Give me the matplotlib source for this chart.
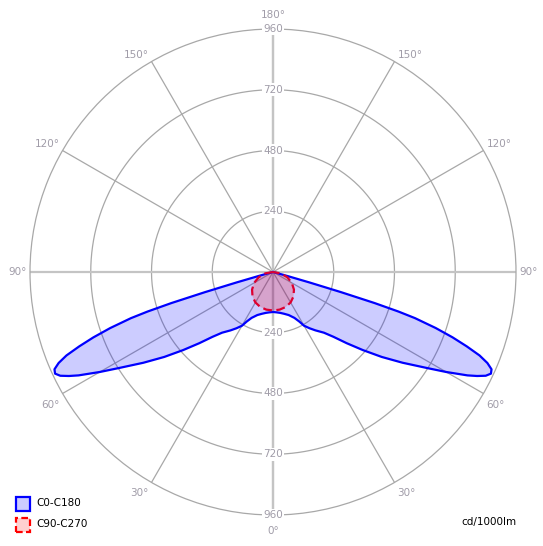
import matplotlib
matplotlib.use("Agg")
import matplotlib.pyplot as plt
import numpy as np
from matplotlib.patches import Rectangle

# photometric data, gamma angles in degrees from nadir, intensity in cd/1000lm
gamma_c0 = [0, 5, 10, 15, 20, 25, 28, 30, 33, 36, 40, 43, 46, 49, 52, 55, 58,
            60, 62, 63, 64, 65, 66, 67, 68, 69, 70, 71, 72, 72.5, 73, 73.5,
            74, 74.5, 75, 80, 90]
c0_c180 = [158, 160, 164, 171, 181, 200, 222, 245, 265, 285, 313, 350, 405,
           470, 545, 625, 715, 790, 870, 905, 935, 950, 945, 920, 880, 820,
           755, 680, 590, 520, 420, 280, 150, 60, 15, 0, 0]

gamma_c90 = [0, 10, 20, 30, 40, 50, 60, 70, 80, 90]
c90_c270 = [152, 151, 147, 139, 126, 108, 86, 60, 31, 0]

rings = [240, 480, 720, 960]
angle_ticks = [0, 30, 60, 90, 120, 150, 180]

W, H = 543, 546
cx, cy, R = 273, 272, 243
fig = plt.figure(figsize=(W / 100, H / 100), dpi=100)
ax = fig.add_axes([(cx - R) / W, (H - cy - R) / H, 2 * R / W, 2 * R / H],
                  projection="polar")
ax.set_theta_zero_location("S")
ax.set_ylim(0, 960)
ax.grid(False)
ax.set_xticks([])
ax.set_yticks([])
ax.spines["polar"].set_color("#a8a8a8")
ax.spines["polar"].set_linewidth(0.9)

FONT = "DejaVu Sans"
LBL = "#a09ca8"

# grid
th = np.linspace(0, 2 * np.pi, 361)
for r in rings[:-1]:
    ax.plot(th, [r] * len(th), color="#a8a8a8", lw=0.9, zorder=1)
for a in angle_ticks:
    for s in (1, -1):
        t = np.radians(a * s)
        if a % 90 == 0:
            ax.plot([t, t], [0, 960], color="#c4c4c4", lw=1.6, zorder=1)
        else:
            ax.plot([t, t], [0, 960], color="#a8a8a8", lw=0.9, zorder=1)

# curves: right half is C0 / C90, left half C180 / C270
def full_curve(g, v):
    g = np.radians(np.array(g, dtype=float))
    v = np.array(v, dtype=float)
    t = np.concatenate([-g[::-1], g[1:]])
    r = np.concatenate([v[::-1], v[1:]])
    return t, r

t1, r1 = full_curve(gamma_c0, c0_c180)
ax.fill(t1, r1, color="#0000ff", alpha=0.2, lw=0, zorder=2)
ax.plot(t1, r1, color="#0000ff", lw=1.6, zorder=4, solid_joinstyle="round")

t2, r2 = full_curve(gamma_c90, c90_c270)
ax.fill(t2, r2, color="#ff0000", alpha=0.2, lw=0, zorder=3)
ax.plot(t2, r2, color="#dd0030", lw=1.6, ls=(0, (4, 2)), zorder=5)

# radial labels
for r in rings:
    for t in (0, np.pi):
        ax.text(t, r, str(r), ha="center", va="center", fontsize=7.5,
                family=FONT, color=LBL, zorder=6,
                bbox=dict(facecolor="white", edgecolor="none", pad=1))

# angle labels, placed in pixels next to where each spoke meets the rim
def px(x, y, s, color=LBL, **kw):
    fig.text(x / W, 1 - y / H, s, fontsize=7.5, family=FONT, color=color, **kw)

px(cx, 15, "180°", ha="center", va="center")
px(cx, 531, "0°", ha="center", va="center")
for a in angle_ticks[1:-1]:
    g = np.radians(a)
    ex = R * np.sin(g)
    ey = cy + R * np.cos(g)
    if a == 90:
        yy = cy
    elif a > 90:
        yy = ey - 7
    else:
        yy = ey + 11
    px(cx - ex - 3, yy, "%d°" % a, ha="right", va="center")
    px(cx + ex + 3, yy, "%d°" % a, ha="left", va="center")

# legend
fig.add_artist(Rectangle((15.5 / W, 1 - 510.5 / H), 14 / W, 14 / H,
                         transform=fig.transFigure, facecolor="#ccccff",
                         edgecolor="#0000ff", lw=1.6))
fig.add_artist(Rectangle((15.5 / W, 1 - 531.5 / H), 14 / W, 14 / H,
                         transform=fig.transFigure, facecolor="#ffd0d0",
                         edgecolor="#ff0000", lw=1.6, ls=(0, (3, 1.5))))
px(36, 503, "C0-C180", color="black", ha="left", va="center")
px(36, 524, "C90-C270", color="black", ha="left", va="center")
px(516, 522, "cd/1000lm", color="black", ha="right", va="center")

fig.savefig("out.png", dpi=100)
